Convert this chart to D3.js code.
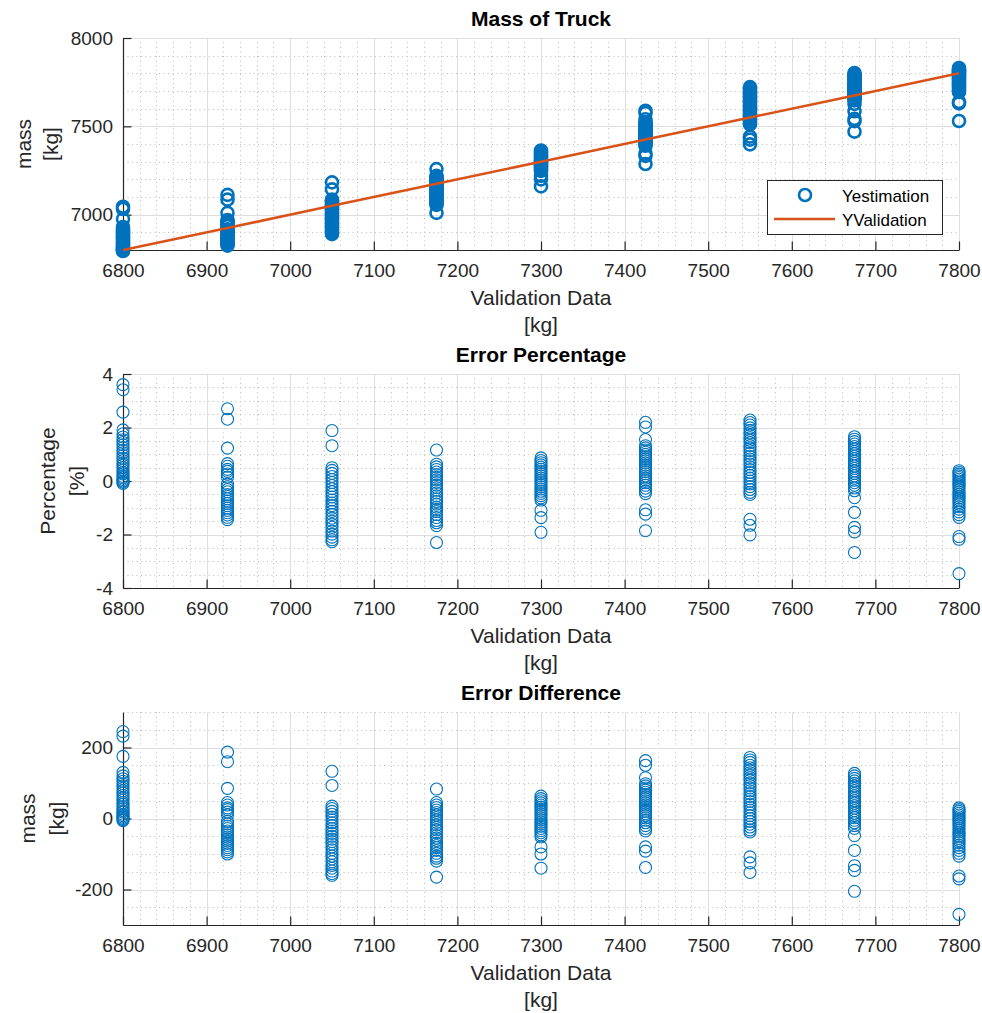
<!DOCTYPE html>
<html><head><meta charset="utf-8">
<script src="https://cdn.jsdelivr.net/npm/d3@7"></script>
<style>
body{margin:0;background:#fff}
svg{display:block}
text{font-family:"Liberation Sans",Arial,Helvetica,sans-serif}
</style>
</head><body>
<svg id="c" width="982" height="1013"></svg>
<script>
// ---------- data ----------
const validation = [6800, 6925, 7050, 7175, 7300, 7425, 7550, 7675, 7800];

// estimation error (Yestimation - YValidation) in kg, per validation mass
const diff_6800 = [245, 232, 175, 130, 120, 112, 105, 98, 92, 85, 78, 72, 65, 58, 52, 45, 40, 34, 28, 22, 18, 12, 8, 4, 0, -3, -6];
const diff_6925 = [187, 160, 85, 45, 38, 30, 25, 18, 10, -8, -15, -22, -28, -35, -40, -46, -52, -58, -64, -70, -76, -82, -88, -94, -100];
const diff_7050 = [133, 93, 35, 28, 20, 12, 4, -4, -12, -20, -28, -35, -42, -50, -58, -65, -72, -80, -88, -98, -106, -114, -122, -132, -140, -148, -155, -160];
const diff_7175 = [83, 45, 38, 31, 24, 17, 10, 3, -4, -11, -18, -25, -32, -40, -48, -55, -62, -70, -76, -82, -90, -98, -106, -112, -120, -165];
const diff_7300 = [63, 56, 50, 44, 38, 32, 26, 20, 14, 8, 2, -4, -10, -16, -22, -28, -34, -40, -46, -52, -80, -100, -140];
const diff_7425 = [163, 150, 115, 98, 92, 86, 80, 74, 68, 62, 56, 50, 44, 38, 32, 26, 20, 14, 8, 2, -5, -12, -20, -28, -35, -80, -92, -138];
const diff_7550 = [172, 165, 158, 150, 143, 136, 129, 122, 115, 108, 100, 93, 86, 78, 70, 62, 55, 48, 40, 32, 24, 16, 8, 0, -8, -16, -24, -32, -38, -108, -125, -152];
const diff_7675 = [127, 120, 113, 106, 99, 92, 85, 78, 71, 64, 57, 50, 43, 36, 29, 22, 15, 8, 2, -5, -12, -20, -28, -48, -90, -133, -146, -205];
const diff_7800 = [30, 25, 20, 15, 10, 5, 0, -5, -10, -15, -20, -26, -32, -38, -44, -50, -56, -62, -68, -75, -82, -90, -98, -106, -162, -170, -270];

const errorGroups = [diff_6800, diff_6925, diff_7050, diff_7175, diff_7300, diff_7425, diff_7550, diff_7675, diff_7800];

const xTicks = [6800, 6900, 7000, 7100, 7200, 7300, 7400, 7500, 7600, 7700, 7800];
const massTicks = [7000, 7500, 8000];
const pctTicks = [-4, -2, 0, 2, 4];
const diffTicks = [-200, 0, 200];

// derived series: estimation, difference, percentage
const points = [];
validation.forEach((v, i) => errorGroups[i].forEach(d => points.push({v: v, est: v + d, diff: d, pct: d / v * 100})));

// ---------- drawing ----------
const svg = d3.select("#c");
const X0 = 123, X1 = 959;
const x = d3.scaleLinear().domain([6800, 7800]).range([X0, X1]);
const BLUE = "#0072BD", RED = "#D95319", AX = "#262626";
const TICK_FS = 19, LAB_FS = 21, TITLE_FS = 21;

const panels = [
  {top: 38, bottom: 250, domain: [6800, 8000], ticks: massTicks, minor: 100, title: "Mass of Truck",
   ylab: ["mass", "[kg]"], ylx: [25, 52], acc: d => d.est, sw: 2.6},
  {top: 374, bottom: 588, domain: [-4, 4], ticks: pctTicks, minor: 0.5, title: "Error Percentage",
   ylab: ["Percentage", "[%]"], ylx: [49, 78.5], acc: d => d.pct, sw: 1.1},
  {top: 712, bottom: 925, domain: [-300, 300], ticks: diffTicks, minor: 50, title: "Error Difference",
   ylab: ["mass", "[kg]"], ylx: [29, 58], acc: d => d.diff, sw: 1.1}
];

const xMinor = d3.range(6800, 7800.001, 20).filter(v => Math.abs(v % 100) > 1e-6);

panels.forEach((p, pi) => {
  const y = d3.scaleLinear().domain(p.domain).range([p.bottom, p.top]);
  const g = svg.append("g");
  const yMinor = d3.range(p.domain[0], p.domain[1] + 1e-9, p.minor)
    .filter(v => !p.ticks.some(t => Math.abs(t - v) < 1e-9));

  // minor grid
  g.append("g").selectAll("line").data(xMinor).join("line")
    .attr("x1", d => Math.round(x(d)) + 0.5).attr("x2", d => Math.round(x(d)) + 0.5)
    .attr("y1", p.top).attr("y2", p.bottom)
    .attr("stroke", "#bdbdbd").attr("stroke-width", 1).attr("stroke-dasharray", "1,3.5");
  g.append("g").selectAll("line").data(yMinor).join("line")
    .attr("y1", d => Math.round(y(d)) + 0.5).attr("y2", d => Math.round(y(d)) + 0.5)
    .attr("x1", X0).attr("x2", X1)
    .attr("stroke", "#bdbdbd").attr("stroke-width", 1).attr("stroke-dasharray", "1,3.5");

  // major grid
  g.append("g").selectAll("line").data(xTicks).join("line")
    .attr("x1", d => Math.round(x(d)) + 0.5).attr("x2", d => Math.round(x(d)) + 0.5)
    .attr("y1", p.top).attr("y2", p.bottom)
    .attr("stroke", "#dedede").attr("stroke-width", 1);
  g.append("g").selectAll("line").data(p.ticks).join("line")
    .attr("y1", d => Math.round(y(d)) + 0.5).attr("y2", d => Math.round(y(d)) + 0.5)
    .attr("x1", X0).attr("x2", X1)
    .attr("stroke", "#dedede").attr("stroke-width", 1);

  // axes
  const xa = g.append("g").attr("transform", `translate(0,${p.bottom})`)
    .call(d3.axisBottom(x).tickValues(xTicks).tickSizeInner(-8.5).tickSizeOuter(0).tickPadding(14).tickFormat(d3.format("d")));
  const ya = g.append("g").attr("transform", `translate(${X0},0)`)
    .call(d3.axisLeft(y).tickValues(p.ticks).tickSizeInner(-8.5).tickSizeOuter(0).tickPadding(10).tickFormat(d => String(d)));
  [xa, ya].forEach(a => {
    a.select(".domain").attr("stroke", AX).attr("stroke-width", 1.2);
    a.selectAll(".tick line").attr("stroke", AX).attr("stroke-width", 1.2);
    a.selectAll(".tick text").attr("fill", AX).style("font-size", TICK_FS + "px")
      .style("font-family", '"Liberation Sans",Arial,sans-serif');
  });

  // markers
  g.append("g").selectAll("circle").data(points).join("circle")
    .attr("cx", d => x(d.v)).attr("cy", d => y(p.acc(d))).attr("r", 6)
    .attr("fill", "none").attr("stroke", BLUE).attr("stroke-width", p.sw);

  // validation line (top panel)
  if (pi === 0) {
    g.append("path").datum(validation)
      .attr("d", d3.line().x(d => x(d)).y(d => y(d)))
      .attr("fill", "none").attr("stroke", RED).attr("stroke-width", 2.6);
  }

  // title
  g.append("text").attr("x", (X0 + X1) / 2).attr("y", p.top - 12)
    .attr("text-anchor", "middle").attr("font-weight", "bold").attr("fill", "#000")
    .style("font-size", TITLE_FS + "px").text(p.title);

  // x label
  ["Validation Data", "[kg]"].forEach((t, i) => {
    g.append("text").attr("x", (X0 + X1) / 2).attr("y", p.bottom + 55 + i * 27)
      .attr("text-anchor", "middle").attr("fill", AX).style("font-size", LAB_FS + "px").text(t);
  });

  // y label (two lines, rotated)
  const cy = (p.top + p.bottom) / 2;
  p.ylab.forEach((t, i) => {
    g.append("text").attr("transform", `translate(${p.ylx[i]},${cy}) rotate(-90)`)
      .attr("text-anchor", "middle").attr("dy", "0.27em").attr("fill", AX)
      .style("font-size", LAB_FS + "px").text(t);
  });

  // legend (top panel)
  if (pi === 0) {
    const lg = g.append("g");
    lg.append("rect").attr("x", 767.5).attr("y", 180.5).attr("width", 175).attr("height", 54)
      .attr("fill", "#fff").attr("stroke", AX).attr("stroke-width", 1);
    lg.append("circle").attr("cx", 805).attr("cy", 195).attr("r", 6)
      .attr("fill", "none").attr("stroke", BLUE).attr("stroke-width", 2.6);
    lg.append("line").attr("x1", 774).attr("x2", 835).attr("y1", 219).attr("y2", 219)
      .attr("stroke", RED).attr("stroke-width", 2.6);
    lg.append("text").attr("x", 842).attr("y", 201.5).attr("fill", "#000").style("font-size", "17px").text("Yestimation");
    lg.append("text").attr("x", 842).attr("y", 226).attr("fill", "#000").style("font-size", "17px").text("YValidation");
  }
});
</script>
</body></html>
